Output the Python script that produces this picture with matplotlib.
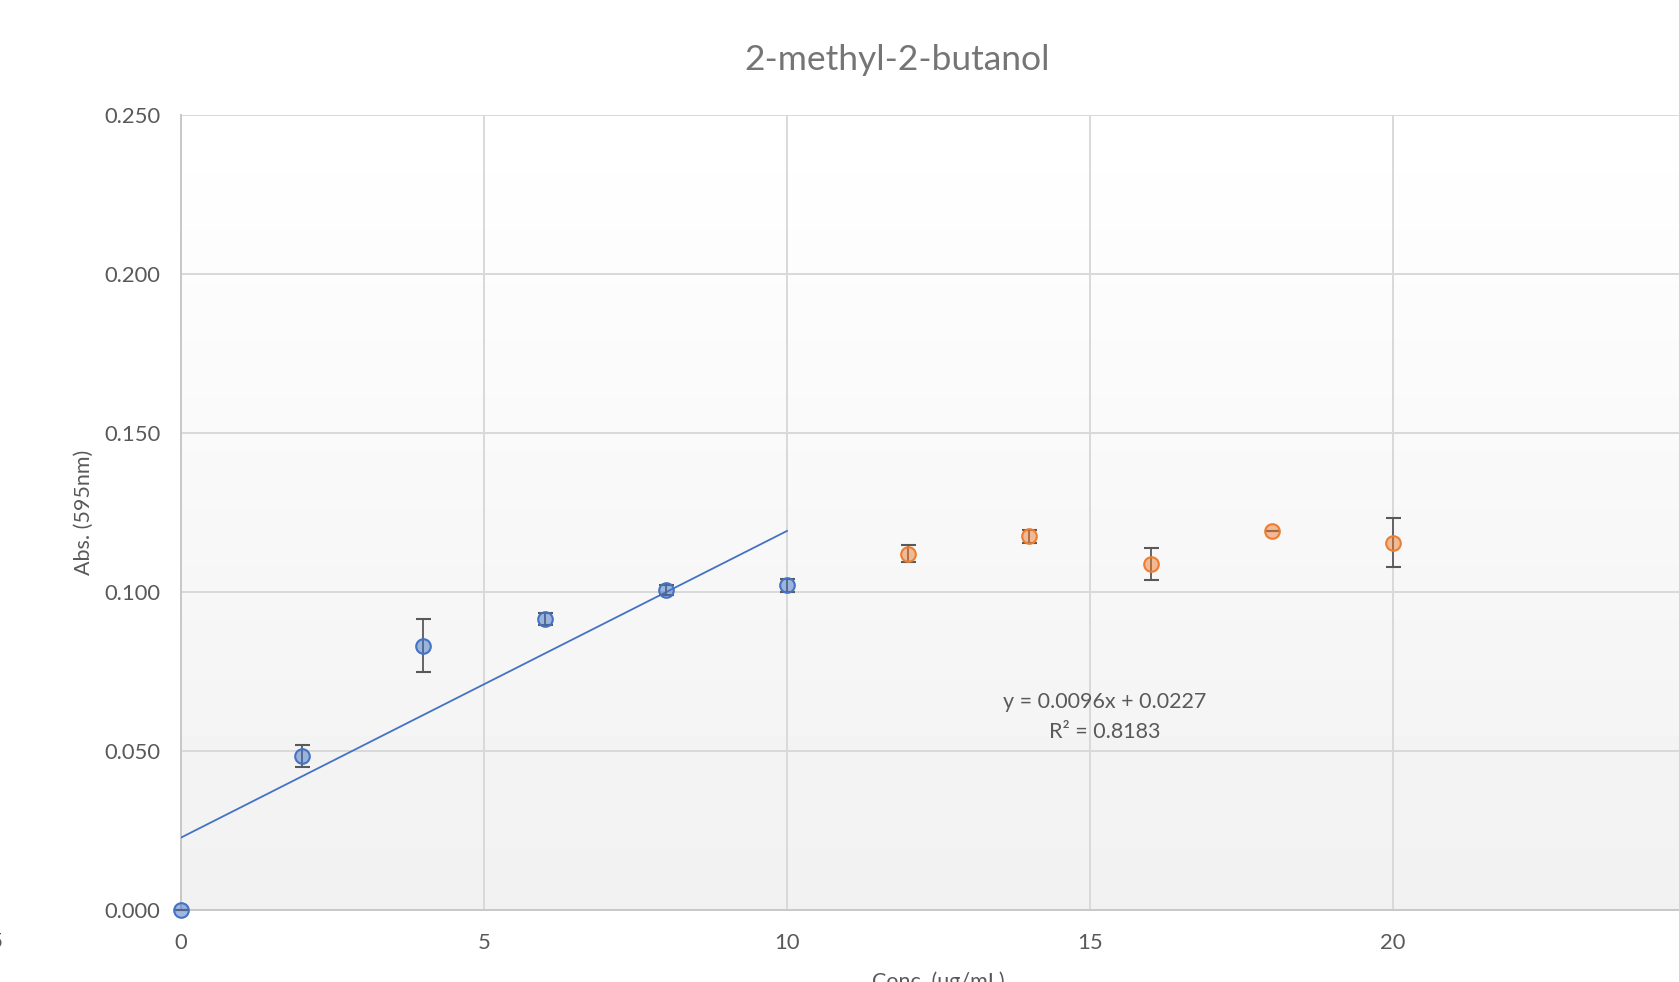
import numpy as np
import matplotlib
matplotlib.use("Agg")
import matplotlib.pyplot as plt

ARQUIVO = "out.png"

# dados
conc_azul = [0, 2, 4, 6, 8, 10]
abs_azul = [0.0, 0.0485, 0.0831, 0.0915, 0.1006, 0.1020]
erro_azul = [0.0, 0.0035, 0.0084, 0.0020, 0.0015, 0.0020]

conc_laranja = [12, 14, 16, 18, 20]
abs_laranja = [0.1120, 0.1174, 0.1087, 0.1191, 0.1154]
erro_laranja = [0.0027, 0.0020, 0.0050, 0.0, 0.0077]

ticks_x = [0, 5, 10, 15, 20]
ticks_y = [0.0, 0.05, 0.10, 0.15, 0.20, 0.25]

texto_equacao = "y = 0.0096x + 0.0227"
texto_r2 = "R² = 0.8183"

AZUL = "#4472C4"
LARANJA = "#ED7D31"
CINZA_TEXTO = "#595959"
CINZA_GRADE = "#D9D9D9"

plt.rcParams["font.family"] = ["Lato", "DejaVu Sans"]


def gerar_grafico():
    fig = plt.figure(figsize=(16.79, 9.82), dpi=100)
    ax = fig.add_axes([181 / 1679, 1 - 910 / 982, 1515 / 1679, (910 - 114.6) / 982])

    # fundo em degrade (branco em cima, cinza claro embaixo)
    degrade = np.linspace(1.0, 0.945, 256).reshape(-1, 1)
    ax.imshow(degrade, cmap="gray", vmin=0, vmax=1, aspect="auto",
              extent=[0, 1, 0, 1], transform=ax.transAxes, zorder=0)

    ax.set_xlim(0, 25)
    ax.set_ylim(0, 0.25)
    ax.set_xticks(ticks_x)
    ax.set_yticks(ticks_y)
    ax.set_yticklabels([f"{v:.3f}" for v in ticks_y])
    ax.grid(True, color=CINZA_GRADE, linewidth=1.4, zorder=1)
    ax.set_axisbelow(True)
    for lado in ["top", "right"]:
        ax.spines[lado].set_visible(False)
    for lado in ["left", "bottom"]:
        ax.spines[lado].set_color("#C8C8C8")
        ax.spines[lado].set_linewidth(1.4)
    ax.tick_params(axis="both", length=0, labelsize=15.8, colors=CINZA_TEXTO)
    ax.tick_params(axis="x", pad=16.5)
    ax.tick_params(axis="y", pad=15)

    # linha de tendencia dos pontos azuis
    coef = np.polyfit(conc_azul, abs_azul, 1)
    xs = np.array([conc_azul[0], conc_azul[-1]])
    ax.plot(xs, np.polyval(coef, xs), color=AZUL, linewidth=1.3, zorder=3)

    ax.errorbar(conc_azul, abs_azul, yerr=erro_azul, fmt="o", markersize=10.5,
                markerfacecolor=(0x44 / 255, 0x72 / 255, 0xC4 / 255, 0.5),
                markeredgecolor=AZUL, markeredgewidth=1.5,
                ecolor=CINZA_TEXTO, elinewidth=1.3, capsize=5.4, capthick=1.3,
                zorder=4, clip_on=False)
    ax.errorbar(conc_laranja, abs_laranja, yerr=erro_laranja, fmt="o", markersize=10.5,
                markerfacecolor=(0xED / 255, 0x7D / 255, 0x31 / 255, 0.5),
                markeredgecolor=LARANJA, markeredgewidth=1.5,
                ecolor=CINZA_TEXTO, elinewidth=1.3, capsize=5.4, capthick=1.3,
                zorder=4)

    fig.text(1105 / 1679, 1 - 702 / 982, texto_equacao,
             ha="center", va="center", fontsize=15.5, color=CINZA_TEXTO)
    fig.text(1105 / 1679, 1 - 732 / 982, texto_r2,
             ha="center", va="center", fontsize=15.5, color=CINZA_TEXTO)

    ax.set_ylabel("Abs. (595nm)", fontsize=15.5, color=CINZA_TEXTO)
    ax.yaxis.set_label_coords((94 - 181) / 1515, 0.5)
    ax.set_xlabel("Conc. (ug/mL)", fontsize=15.5, color=CINZA_TEXTO)
    ax.xaxis.set_label_coords(0.5, (910 - 971) / 795.4)

    fig.text(897 / 1679, 1 - 60 / 982, "2-methyl-2-butanol", ha="center", va="center",
             fontsize=25.5, color="#757575")
    fig.text(4 / 1679, 1 - 942 / 982, "-5", ha="right", va="center",
             fontsize=15.8, color=CINZA_TEXTO)

    fig.savefig(ARQUIVO, dpi=100)
    plt.close(fig)


if __name__ == "__main__":
    gerar_grafico()
